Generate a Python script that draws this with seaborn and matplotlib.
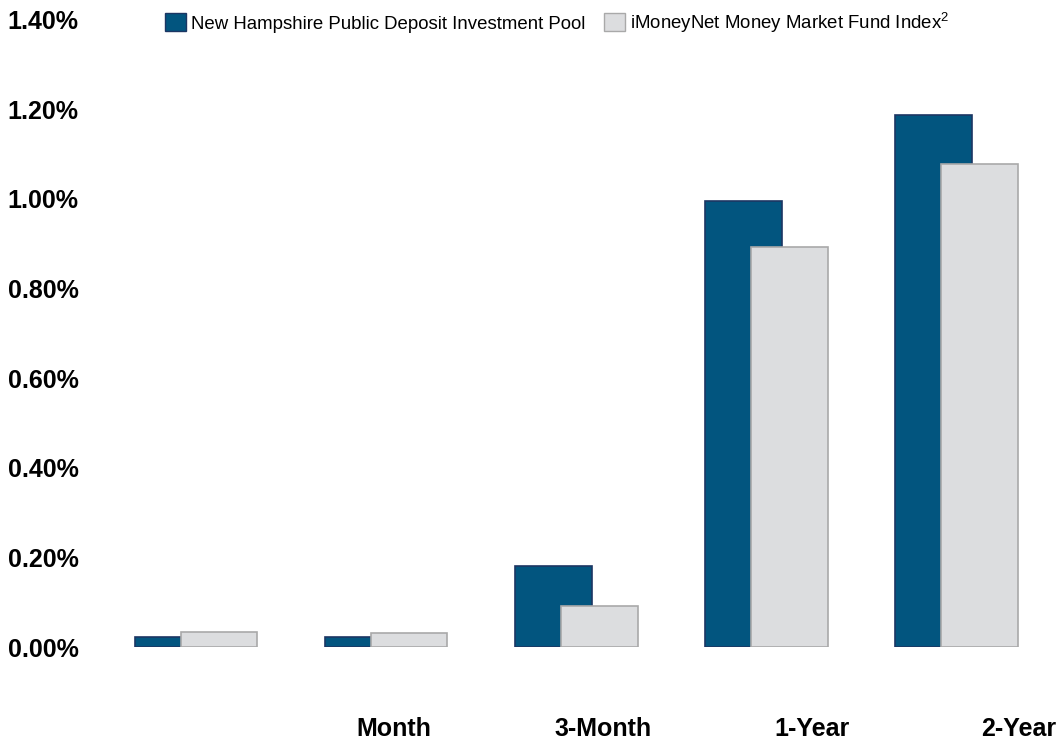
import numpy as np
import pandas as pd
import seaborn as sns
import matplotlib.pyplot as plt
from matplotlib.patches import Patch

periods = ["Week", "Month", "3-Month", "1-Year", "2-Year"]
period_labels = ["Month", "3-Month", "1-Year", "2-Year"]
pool = [0.022, 0.022, 0.18, 0.995, 1.187]
imoney = [0.033, 0.032, 0.091, 0.893, 1.078]
series = ["New Hampshire Public Deposit Investment Pool",
          "iMoneyNet Money Market Fund Index$^2$"]

df = pd.DataFrame({
    "period": periods * 2,
    "value": pool + imoney,
    "series": [series[0]] * len(periods) + [series[1]] * len(periods),
})

sns.set_theme(style="white")
plt.rcParams["font.family"] = ["Liberation Sans", "DejaVu Sans"]
plt.rcParams["mathtext.fontset"] = "custom"
plt.rcParams["mathtext.rm"] = "Liberation Sans"
plt.rcParams["text.color"] = "black"
plt.rcParams["xtick.color"] = "black"
plt.rcParams["ytick.color"] = "black"

fig = plt.figure(figsize=(10.62, 7.43), dpi=100)
ax = fig.add_axes([0.095, 0.129, 0.895, 0.845])

colors = ["#02557f", "#dcdddf"]
edges = ["#1c3663", "#a9a9a9"]
sns.barplot(data=df, x="period", y="value", hue="series", palette=colors,
            width=0.484, gap=-0.67, dodge=True, ax=ax, legend=False,
            linewidth=1.2, saturation=1)
n = len(periods)
for i, bar in enumerate(ax.patches[:2 * n]):
    bar.set_edgecolor(edges[i // n])

ax.set_xlim(-0.5, 4.5)
ax.set_ylim(0, 1.4)
ax.set_yticks(np.arange(0, 1.41, 0.2))
ax.set_yticklabels([f"{v:.2f}%" for v in np.arange(0, 1.41, 0.2)],
                   fontsize=18, fontweight="bold")
ax.set_xticks([1.04, 2.14, 3.24, 4.33])
ax.set_xticklabels(period_labels, fontsize=18, fontweight="bold")
ax.tick_params(axis="x", length=0, pad=50)
ax.tick_params(axis="y", length=0, pad=16)
ax.set_xlabel("")
ax.set_ylabel("")
sns.despine(ax=ax, left=True, bottom=True)

handles = [Patch(facecolor=c, edgecolor=e, label=s)
           for c, e, s in zip(colors, edges, series)]
fig.legend(handles=handles, loc="center", bbox_to_anchor=(0.525, 0.97),
           ncol=2, frameon=False, fontsize=13.4, handlelength=1.1,
           handleheight=1.1, handletextpad=0.3, columnspacing=1.0)

fig.savefig("out.png", dpi=100)
